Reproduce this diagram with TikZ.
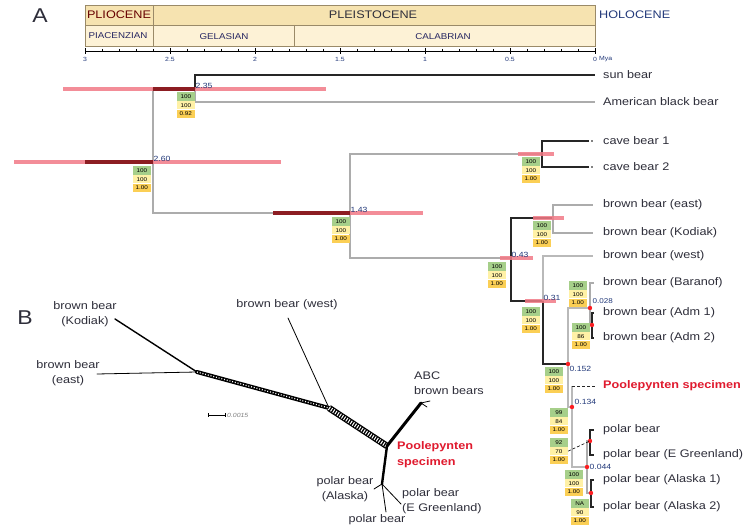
\documentclass[tikz,border=0pt]{standalone}
\usepackage{fontspec}
\setmainfont{Liberation Sans}[FakeStretch=1.15]
\usetikzlibrary{positioning,arrows.meta}

\definecolor{tsepoch}{HTML}{F6E3B0}
\definecolor{tsstage}{HTML}{FDF2D6}
\definecolor{tsline}{HTML}{9A8A68}
\definecolor{ppgreen}{HTML}{A6CF8A}
\definecolor{bsyellow}{HTML}{FFF1A6}
\definecolor{pbgold}{HTML}{FBCF55}
\definecolor{hpdpink}{HTML}{F27A86}
\definecolor{hpddark}{HTML}{8C1D22}
\definecolor{agecol}{HTML}{22397A}
\definecolor{labcol}{HTML}{2E2E3A}
\definecolor{poolered}{HTML}{E01A2E}

% support values: name, north east corner, three values
\newcommand\suppbox[5]{%
  \node[suppcell,fill=ppgreen,anchor=north east] (#1pp) at (#2) {#3};
  \node[suppcell,fill=bsyellow,below=0pt of #1pp] (#1bs) {#4};
  \node[suppcell,fill=pbgold,below=0pt of #1bs] (#1pb) {#5};}

\begin{document}
\begin{tikzpicture}[x=1pt,y=-1pt,
  tip/.style={anchor=west,inner sep=0pt,text=labcol,font=\fontsize{11}{12}\selectfont},
  poole/.style={text=poolered,font=\bfseries\fontsize{11}{12}\selectfont},
  blab/.style={inner sep=0pt,text=labcol,align=center,font=\fontsize{11}{15}\selectfont},
  epoch/.style={inner sep=0pt,text=labcol,font=\fontsize{11}{12}\selectfont},
  stage/.style={inner sep=0pt,text=labcol!80!blue,font=\fontsize{8.5}{9}\selectfont},
  ticklab/.style={inner sep=0pt,text=agecol,font=\fontsize{6}{6}\selectfont},
  age/.style={inner sep=.5pt,text=agecol,font=\fontsize{7.5}{8}\selectfont},
  suppcell/.style={inner sep=0pt,minimum width=18pt,minimum height=8.4pt,text=black,font=\fontsize{5.5}{6}\selectfont},
  branch/.style={draw=gray!65,line width=1.1pt},
  branchk/.style={draw=black!85,line width=1.1pt},
  branchw/.style={draw=gray!55,line width=2.2pt},
  hpd/.style={draw=hpdpink,line width=3.6pt,opacity=.85},
  hpdin/.style={draw=hpddark,line width=3.6pt},
  hpddot/.style={fill=red!75!hpdpink},
  net/.style={draw=black,line width=.8pt,line cap=round},
  panel/.style={inner sep=0pt,text=labcol,font=\fontsize{20}{20}\selectfont}
]
\useasboundingbox (0,0) rectangle (748,529);
\fill[white] (0,0) rectangle (748,529);

\node[panel] (pA) at (40,16) {A};
\node[panel] (pB) at (25,318) {B};

% geological time scale
\fill[tsepoch] (85,5) rectangle (595,25);
\fill[tsstage] (85,25) rectangle (595,46);
\draw[tsline,line width=.8pt] (85,5) rectangle (595,46) (85,25) -- (595,25)
  (153,5) -- (153,46) (294,25) -- (294,46);
\node[epoch,text=red!40!black] (plio) at (119,15) {PLIOCENE};
\node[epoch] (pleist) at (373,15) {PLEISTOCENE};
\node[epoch,anchor=west,text=agecol] (holo) at (599,15) {HOLOCENE};
\node[stage] (piac) at (118,36) {PIACENZIAN};
\node[stage] (gela) at (224,37) {GELASIAN};
\node[stage] (cala) at (443,37) {CALABRIAN};

\draw[line width=.8pt] (85,51) -- (595,51);
\foreach \i in {0,...,30}
  \draw[line width=.6pt] ({595-17*\i},49) -- ({595-17*\i},52);
\foreach \i/\t in {0/0,5/0.5,10/1,15/1.5,20/2,25/2.5,30/3} {
  \draw[line width=.9pt] ({595-17*\i},48) -- ({595-17*\i},54);
  \node[ticklab] (tick\i) at ({595-17*\i},59) {\t};
}
\node[ticklab,anchor=west] (mya) at (599,59) {Mya};

% tips
\node[tip] (sun) at (603,75) {sun bear};
\node[tip] (amb) at (603,102) {American black bear};
\node[tip] (cave1) at (603,141) {cave bear 1};
\node[tip] (cave2) at (603,167) {cave bear 2};
\node[tip] (bbeast) at (603,205) {brown bear (east)};
\node[tip] (bbkod) at (603,233) {brown bear (Kodiak)};
\node[tip] (bbwest) at (603,256) {brown bear (west)};
\node[tip] (bbbar) at (603,283) {brown bear (Baranof)};
\node[tip] (bbadm1) at (603,313) {brown bear (Adm 1)};
\node[tip] (bbadm2) at (603,338) {brown bear (Adm 2)};
\node[tip,poole] (pool) at (603,386) {Poolepynten specimen};
\node[tip] (pb) at (603,430) {polar bear};
\node[tip] (pbeg) at (603,455) {polar bear (E Greenland)};
\node[tip] (pbak1) at (603,480) {polar bear (Alaska 1)};
\node[tip] (pbak2) at (603,507) {polar bear (Alaska 2)};

% internal nodes
\coordinate (root) at (85,162);
\coordinate (n260) at (153,162);
\coordinate (n235) at (195,89);
\coordinate (n143) at (350,213);
\coordinate (ncave) at (542,154);
\coordinate (n043) at (511,258);
\coordinate (neast) at (553,218);
\coordinate (n031) at (543,301);
\coordinate (n0152) at (568,364);
\coordinate (nabc) at (590,308);
\coordinate (nadm) at (592,325);
\coordinate (n0134) at (572,407);
\coordinate (n0044) at (587,467);
\coordinate (npeg) at (590,441);
\coordinate (nak) at (591,493);

% branches
\draw[branchk] (root) -- (n260);
\draw[branch] (n260) |- (n235);
\draw[branch] (n260) |- (n143);
\draw[branchk] (n235) |- ([xshift=-8pt]sun.west);
\draw[branch] (n235) |- ([xshift=-8pt]amb.west);
\draw[branch] (n143) |- (ncave);
\draw[branch] (n143) |- (n043);
\draw[branchk] (ncave) |- ([xshift=-14pt]cave1.west);
\draw[branchk] (ncave) |- ([xshift=-14pt]cave2.west);
\draw[branchk] (n043) |- (neast);
\draw[branchk] (n043) |- (n031);
\draw[branch] (neast) |- ([xshift=-10pt]bbeast.west);
\draw[branch] (neast) |- ([xshift=-10pt]bbkod.west);
\draw[branchw] (n031) |- ([xshift=-10pt]bbwest.west);
\draw[branchk] (n031) |- (n0152);
\draw[branchw] (n0152) |- (nabc);
\draw[branchw] (n0152) |- (n0134);
\draw[branch] (nabc) |- ([xshift=-9pt]bbbar.west);
\draw[branch] (nabc) |- (nadm);
\draw[branchk] (nadm) |- ([xshift=-9pt]bbadm1.west);
\draw[branchk] (nadm) |- ([xshift=-9pt]bbadm2.west);
\draw[branchw] (n0134) -- (n0134 |- pool.west);
\draw[branchk,densely dashed,line width=.8pt] (n0134 |- pool.west) -- ([xshift=-8pt]pool.west);
\draw[branchw] (n0134) |- (n0044);
\draw[branch] (n0044) |- (npeg);
\draw[branch] (n0044) |- (nak);
\draw[branchk] (npeg) |- ([xshift=-9pt]pb.west);
\draw[branchk] (npeg) |- ([xshift=-9pt]pbeg.west);
\draw[branchk] (nak) |- ([xshift=-9pt]pbak1.west);
\draw[branchk] (nak) |- ([xshift=-9pt]pbak2.west);
\fill[black] ([xshift=-11pt]cave1.west) circle (.8pt);
\fill[black] ([xshift=-11pt]cave2.west) circle (.8pt);

% 95% HPD of node ages
\draw[hpd] (63,89) -- (326,89);
\draw[hpdin] (153,89) -- (195,89);
\draw[hpd] (14,162) -- (281,162);
\draw[hpdin] (85,162) -- (153,162);
\draw[hpd] (273,213) -- (423,213);
\draw[hpdin] (273,213) -- (350,213);
\draw[hpd] (518,154) -- (554,154);
\draw[hpd] (533,218) -- (564,218);
\draw[hpd] (500,258) -- (533,258);
\draw[hpd] (525,301) -- (556,301);
\foreach \n in {n0152,nabc,nadm,n0134,n0044,npeg,nak}
  \fill[hpddot] (\n) circle (2.2pt);

% node ages
\node[age,anchor=south west] (a235) at (n235) {2.35};
\node[age,anchor=south west] (a260) at (n260) {2.60};
\node[age,anchor=south west] (a143) at (n143) {1.43};
\node[age,anchor=south west] (a043) at (n043) {0.43};
\node[age,anchor=south west] (a031) at (n031) {0.31};
\node[age,anchor=south west,font=\fontsize{7}{7}\selectfont] (a028) at ([xshift=2pt,yshift=3.5pt]nabc) {0.028};
\node[age,anchor=north west] (a152) at ([xshift=1pt,yshift=-2pt]n0152) {0.152};
\node[age,anchor=west] (a134) at ([xshift=2pt,yshift=5pt]n0134) {0.134};
\node[age,anchor=west] (a044) at ([xshift=2pt]n0044) {0.044};

% support values
\suppbox{s235}{195,92}{100}{100}{0.92}
\suppbox{s260}{151,166}{100}{100}{1.00}
\suppbox{s143}{350,217}{100}{100}{1.00}
\suppbox{scave}{540,157}{100}{100}{1.00}
\suppbox{seast}{551,221}{100}{100}{1.00}
\suppbox{s043}{506,262}{100}{100}{1.00}
\suppbox{s031}{540,307}{100}{100}{1.00}
\suppbox{sabc}{587,281}{100}{100}{1.00}
\suppbox{sadm}{590,323}{100}{86}{1.00}
\suppbox{s0152}{563,367}{100}{100}{1.00}
\suppbox{s0134}{568,408}{99}{84}{1.00}
\suppbox{speg}{568,438}{92}{70}{1.00}
\suppbox{s0044}{583,470}{100}{100}{1.00}
\suppbox{sak}{589,499}{NA}{90}{1.00}
\draw[densely dashed,line width=.6pt] (spegbs.east) -- (npeg);

% panel B: phylogenetic network
\coordinate (jk) at (197,372);
\coordinate (jw) at (329,408);
\coordinate (jp) at (387,446);
\coordinate (jpb) at (382,484);
\coordinate (tkod) at (115,319);
\coordinate (teast) at (97,374);
\coordinate (twest) at (288,318);
\coordinate (tabc) at (421,403);
\coordinate (tpb) at (386,512);
\coordinate (tpeg) at (401,504);
\coordinate (tpak) at (374,489);

\draw[net,line width=1.4pt] (tkod) -- (jk);
\draw[net] (teast) -- (jk);
\draw[net] (twest) -- (jw);
\draw[net,line width=4pt] (jk) -- (jw);
\draw[white,line width=1.2pt,dash pattern=on 1pt off 1.8pt] (jk) -- (jw);
\draw[net,line width=6.5pt,line cap=butt] (jw) -- (jp);
\draw[white,line width=4pt,dash pattern=on 1pt off 1.6pt] (jw) -- (jp);
\draw[net,line width=3pt] (jp) -- (tabc);
\draw[net] (tabc) -- ++(9,-2) (tabc) -- ++(6,4);
\draw[net,line width=2.4pt] (jp) -- (jpb);
\draw[net] (jpb) -- (tpb) (jpb) -- (tpeg) (jpb) -- (tpak);

\node[blab] (bkod) at (85,314.5) {brown bear\\(Kodiak)};
\node[blab] (beast) at (68,373.5) {brown bear\\(east)};
\node[blab] (bwest) at (287,305) {brown bear (west)};
\node[blab,align=left,anchor=west] (babc) at (414,383.5) {ABC\\brown bears};
\node[blab,align=left,anchor=west,text=poolered,font=\bfseries\fontsize{11}{16}\selectfont] (bpool) at (397,455) {Poolepynten\\specimen};
\node[blab] (bpak) at (345,489.5) {polar bear\\(Alaska)};
\node[blab,align=left,anchor=west] (bpeg) at (402,501) {polar bear\\(E Greenland)};
\node[blab] (bpb) at (377,520) {polar bear};

\coordinate (sbl) at (208,415);
\coordinate (sbr) at (226,415);
\draw[line width=.6pt,{Bar[width=4pt]}-{Bar[width=4pt]}] (sbl) -- (sbr);
\node[anchor=west,inner sep=1pt,text=gray,font=\itshape\fontsize{6}{6}\selectfont] (sblab) at (sbr) {0.0015};
\end{tikzpicture}
\end{document}
